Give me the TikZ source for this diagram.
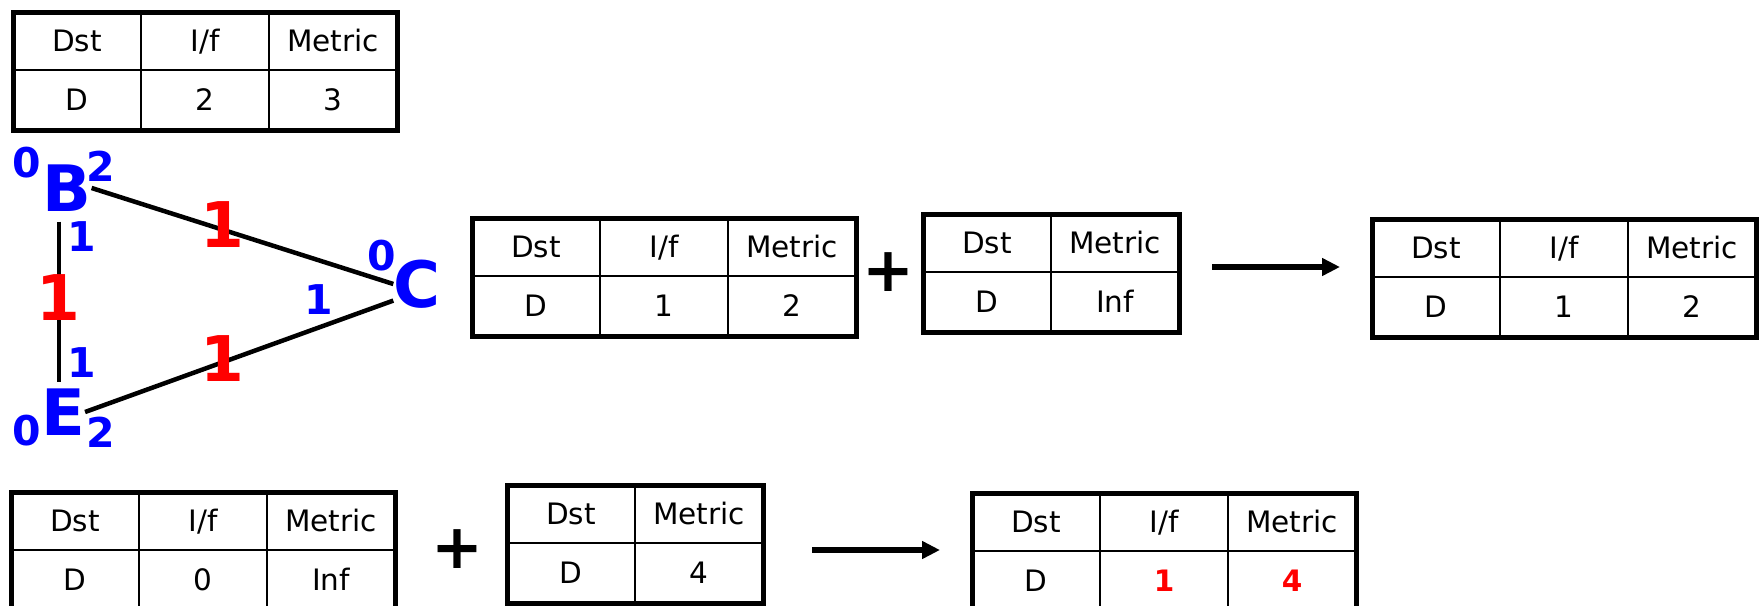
\documentclass[tikz,border=0pt]{standalone}
\usepackage{fontspec}
\setmainfont{DejaVu Sans}
\usetikzlibrary{arrows.meta,positioning}
\definecolor{portblue}{RGB}{0,0,255}
\definecolor{costred}{RGB}{255,0,0}

\begin{document}
\begin{tikzpicture}[x=1pt, y=-1pt,
  hcell/.style={draw, line width=2pt, minimum width=128pt, minimum height=58pt, inner sep=0pt, outer sep=0pt, text height=21.5pt, text depth=0pt, font=\fontsize{29.5}{32}\selectfont},
  dcell/.style={hcell, minimum height=60pt},
  frame/.style={line width=5pt},
  router/.style={text=portblue, inner sep=0pt, font=\fontsize{64}{70}\selectfont\bfseries},
  port/.style={text=portblue, inner sep=0pt, font=\fontsize{41}{45}\selectfont\bfseries},
  cost/.style={text=costred, inner sep=0pt, font=\fontsize{63}{70}\selectfont\bfseries},
  link/.style={line width=4.5pt},
  plus/.style={inner sep=0pt, font=\fontsize{62}{70}\selectfont\bfseries},
  arr/.style={line width=5.5pt, -{Triangle[length=18pt, width=17pt]}}
]
  \clip (0,0) rectangle (1760,605);

  % the three routers
  \node[router] (B) at (67,188) {B};
  \node[router] (E) at (63,412) {E};
  \node[router] (C) at (417,284) {C};

  \draw[link] (B.east) -- (C.west);
  \draw[link] (E.east) -- (C.215);
  \draw[link, shorten <=10pt, shorten >=6pt] ([xshift=-8pt]B.south) -- ([xshift=-4pt]E.north);

  \node[port] (b0) at (27,163) {0};
  \node[port] (b2) at (101,166) {2};
  \node[port] (b1) at (82,237) {1};
  \node[port] (e1) at (82,363) {1};
  \node[port] (e0) at (27,431) {0};
  \node[port] (e2) at (101,432) {2};
  \node[port] (c0) at (382,256) {0};
  \node[port] (c1) at (319,300) {1};

  \node[cost] (be) at (58,298) {1};
  \node[cost] (bc) at (222,225) {1};
  \node[cost] (ec) at (222,359) {1};

  % table of B
  \node[hcell, anchor=north west] (btab-dst) at (13,12) {Dst};
  \node[hcell, right=0pt of btab-dst] (btab-if) {I/f};
  \node[hcell, right=0pt of btab-if] (btab-met) {Metric};
  \node[dcell, below=0pt of btab-dst] (btab-d) {D};
  \node[dcell, right=0pt of btab-d] (btab-i) {2};
  \node[dcell, right=0pt of btab-i] (btab-m) {3};
  \draw[frame] (btab-dst.north west) rectangle (btab-m.south east);

  % C: own table + update -> new table
  \node[hcell, anchor=north west] (ctab-dst) at (472,218) {Dst};
  \node[hcell, right=0pt of ctab-dst] (ctab-if) {I/f};
  \node[hcell, right=0pt of ctab-if] (ctab-met) {Metric};
  \node[dcell, below=0pt of ctab-dst] (ctab-d) {D};
  \node[dcell, right=0pt of ctab-d] (ctab-i) {1};
  \node[dcell, right=0pt of ctab-i] (ctab-m) {2};
  \draw[frame] (ctab-dst.north west) rectangle (ctab-m.south east);

  \node[plus] (cplus) at (888,272) {+};

  \node[hcell, anchor=north west] (cupd-dst) at (923,214) {Dst};
  \node[hcell, right=0pt of cupd-dst] (cupd-met) {Metric};
  \node[dcell, below=0pt of cupd-dst] (cupd-d) {D};
  \node[dcell, right=0pt of cupd-d] (cupd-m) {Inf};
  \draw[frame] (cupd-dst.north west) rectangle (cupd-m.south east);

  \coordinate (carr-s) at (1212,267);
  \coordinate (carr-e) at (1340,267);
  \draw[arr] (carr-s) -- (carr-e);

  \node[hcell, anchor=north west] (cnew-dst) at (1372,219) {Dst};
  \node[hcell, right=0pt of cnew-dst] (cnew-if) {I/f};
  \node[hcell, right=0pt of cnew-if] (cnew-met) {Metric};
  \node[dcell, below=0pt of cnew-dst] (cnew-d) {D};
  \node[dcell, right=0pt of cnew-d] (cnew-i) {1};
  \node[dcell, right=0pt of cnew-i] (cnew-m) {2};
  \draw[frame] (cnew-dst.north west) rectangle (cnew-m.south east);

  % E: own table + update -> new table
  \node[hcell, anchor=north west] (etab-dst) at (11,492) {Dst};
  \node[hcell, right=0pt of etab-dst] (etab-if) {I/f};
  \node[hcell, right=0pt of etab-if] (etab-met) {Metric};
  \node[dcell, below=0pt of etab-dst] (etab-d) {D};
  \node[dcell, right=0pt of etab-d] (etab-i) {0};
  \node[dcell, right=0pt of etab-i] (etab-m) {Inf};
  \draw[frame] (etab-dst.north west) rectangle (etab-m.south east);

  \node[plus] (eplus) at (457,549) {+};

  \node[hcell, anchor=north west] (eupd-dst) at (507,485) {Dst};
  \node[hcell, right=0pt of eupd-dst] (eupd-met) {Metric};
  \node[dcell, below=0pt of eupd-dst] (eupd-d) {D};
  \node[dcell, right=0pt of eupd-d] (eupd-m) {4};
  \draw[frame] (eupd-dst.north west) rectangle (eupd-m.south east);

  \coordinate (earr-s) at (812,550);
  \coordinate (earr-e) at (940,550);
  \draw[arr] (earr-s) -- (earr-e);

  \node[hcell, anchor=north west] (enew-dst) at (972,493) {Dst};
  \node[hcell, right=0pt of enew-dst] (enew-if) {I/f};
  \node[hcell, right=0pt of enew-if] (enew-met) {Metric};
  \node[dcell, below=0pt of enew-dst] (enew-d) {D};
  \node[dcell, right=0pt of enew-d, text=costred, font=\fontsize{29.5}{32}\selectfont\bfseries] (enew-i) {1};
  \node[dcell, right=0pt of enew-i, text=costred, font=\fontsize{29.5}{32}\selectfont\bfseries] (enew-m) {4};
  \draw[frame] (enew-dst.north west) rectangle (enew-m.south east);
\end{tikzpicture}
\end{document}
